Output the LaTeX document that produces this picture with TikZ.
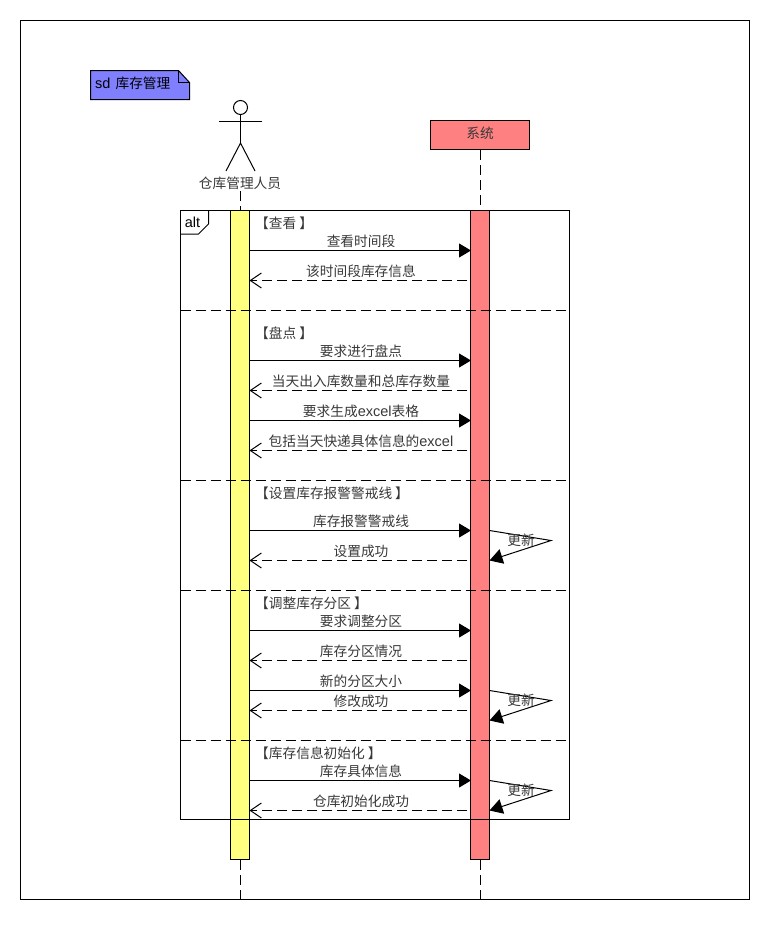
\documentclass[tikz,border=0pt]{standalone}
\usepackage{fontspec}
\setmainfont{Liberation Sans}
\newfontfamily\cjk{Noto Sans CJK SC}
\usetikzlibrary{arrows.meta}
\newcommand{\lat}[1]{{\normalfont\fontsize{14.5}{16}\selectfont #1}}
\definecolor{barred}{HTML}{FF8080}
\definecolor{baryellow}{HTML}{FFFF80}
\definecolor{noteblue}{HTML}{8080FF}
\tikzset{
  line/.style={draw=black, line width=1pt},
  txt/.style={font=\cjk\fontsize{13.7}{15}\selectfont, text=black!78, inner sep=0pt},
  lifeline/.style={line, dash pattern=on 10pt off 5pt},
  sep/.style={line, dash pattern=on 10pt off 5pt},
  bar/.style={line, minimum width=19pt, minimum height=649pt, inner sep=0pt},
  callmsg/.style={line, -{Triangle[length=12pt,width=14pt]}},
  selfmsg/.style={line, -{Triangle[length=13pt,width=15pt]}},
  retmsg/.style={line, dash pattern=on 10pt off 5pt, -{Straight Barb[length=11pt,width=15pt]}},
}
\begin{document}
\begin{tikzpicture}[x=1pt,y=-1pt]
\useasboundingbox (0,0) rectangle (770,940);
% outer frame
\draw[line] (20.5,20.5) rectangle (749.5,899.5);
% sd note
\draw[line, fill=noteblue] (90.5,70.5) -- (178.5,70.5) -- (189.5,82.5) -- (189.5,99.5) -- (90.5,99.5) -- cycle;
\draw[line] (178.5,70.5) -- (178.5,82.5) -- (189.5,82.5);
\node[txt, text=black, anchor=west] (sdlabel) at (95,83.5) {\lat{sd}\kern2pt{} 库存管理};
% actor
\node[line, circle, minimum size=14pt, inner sep=0pt] (head) at (240.5,107.5) {};
\coordinate (armL) at (219,121.5);
\coordinate (armR) at (262,121.5);
\coordinate (hip) at (240.5,143);
\coordinate (footL) at (226,171);
\coordinate (footR) at (255,171);
\draw[line] (armL) -- (armR);
\draw[line] (head) -- (hip);
\draw[line] (footL) -- (hip) -- (footR);
\node[txt] (user) at (240,183) {仓库管理人员};
% system
\node[line, fill=barred, minimum width=99pt, minimum height=29pt, inner sep=0pt] (system) at (480,135) {};
\node[txt] (syslabel) at (480,133) {系统};
% bars
\node[bar, fill=baryellow] (userbar) at (240,535) {};
\node[bar, fill=barred] (sysbar) at (480,535) {};
% lifelines
\coordinate (userend) at (240.5,900);
\coordinate (sysend) at (480.5,900);
\coordinate (usertop) at (240.5,191);
\draw[lifeline] (usertop) -- (userbar.north -| usertop);
\draw[lifeline] (system.south -| sysend) -- (sysbar.north -| sysend);
\draw[lifeline] (userbar.south -| userend) -- (userend);
\draw[lifeline] (sysbar.south -| sysend) -- (sysend);
% messages
\foreach \n/\y/\lab in {a/250.5/查看时间段, b/360.5/要求进行盘点, c/420.5/要求生成\lat{excel}表格, d/530.5/库存报警警戒线, e/630.5/要求调整分区, f/690.5/新的分区大小, g/780.5/库存具体信息}{
  \coordinate (from\n) at (249.5,\y);
  \coordinate (to\n) at (471,\y);
  \draw[callmsg] (from\n) -- (to\n);
  \node[txt] (lab\n) at (361,\y-9.5) {\lab};
}
\foreach \n/\y/\lab in {h/280.5/该时间段库存信息, i/390.5/当天出入库数量和总库存数量, j/450.5/包括当天快递具体信息的\lat{excel}, k/560.5/设置成功, l/660.5/库存分区情况, m/710.5/修改成功, o/810.5/仓库初始化成功}{
  \coordinate (from\n) at (467,\y);
  \coordinate (to\n) at (249.5,\y);
  \draw[retmsg] (from\n) -- (to\n);
  \node[txt] (lab\n) at (361,\y-9.5) {\lab};
}
% self messages
\foreach \n/\ya/\yb/\yc in {p/530.5/540.5/560.5, q/690.5/700.5/720.5, r/780.5/790.5/810.5}{
  \coordinate (selfa\n) at (489.5,\ya);
  \coordinate (selfb\n) at (551,\yb);
  \coordinate (selfc\n) at (489.5,\yc);
  \draw[selfmsg] (selfa\n) -- (selfb\n) -- (selfc\n);
  \node[txt] (self\n) at (521,\yb) {更新};
}
% alt frame
\draw[line] (180.5,210.5) rectangle (569.5,819.5);
\draw[line] (180.5,234) -- (198.5,234) -- (208.5,224) -- (208.5,210.5);
\node[txt, text=black] (alt) at (192.5,222) {\lat{alt}};
% guards
\node[txt, anchor=west] (g1) at (255,223.5) {【查看\kern3pt】};
\node[txt, anchor=west] (g2) at (255,333.5) {【盘点\kern3pt】};
\node[txt, anchor=west] (g3) at (255,493.5) {【设置库存报警警戒线\kern3pt】};
\node[txt, anchor=west] (g4) at (255,603.5) {【调整库存分区\kern3pt】};
\node[txt, anchor=west] (g5) at (255,753.5) {【库存信息初始化\kern3pt】};
% separators
\foreach \n/\y in {s1/310.5, s2/480.5, s3/590.5, s4/740.5}{
  \coordinate (\n a) at (180.5,\y);
  \coordinate (\n b) at (569.5,\y);
  \draw[sep] (\n a) -- (\n b);
}
\end{tikzpicture}
\end{document}
